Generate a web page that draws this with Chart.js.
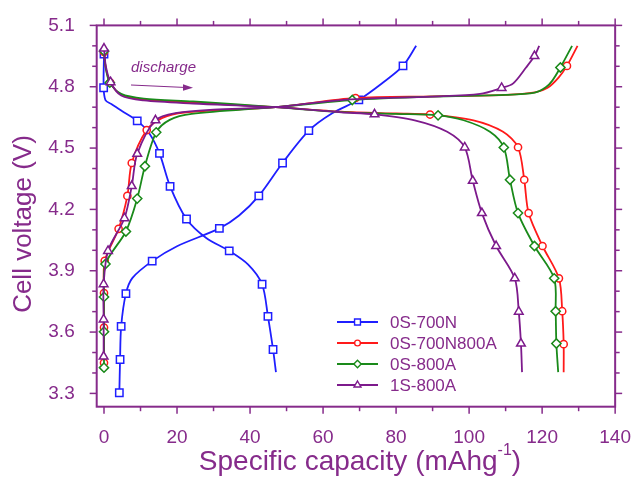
<!DOCTYPE html>
<html>
<head>
<meta charset="utf-8">
<script src="https://cdn.jsdelivr.net/npm/chart.js@4.4.0/dist/chart.umd.min.js"></script>
<style>html,body{margin:0;padding:0;background:#fff;}canvas{display:block;}</style>
</head>
<body>
<canvas id="c" width="643" height="479" style="width:643px;height:479px"></canvas>
<script>
// ---- tick labels ----
const xTicks = [0, 20, 40, 60, 80, 100, 120, 140];
const yTicks = [3.3, 3.6, 3.9, 4.2, 4.5, 4.8, 5.1];
const xMinorStep = 10;
const yMinorStep = 0.1;

// ---- series names ----
const seriesNames = ['0S-700N', '0S-700N800A', '0S-800A', '1S-800A'];

// ---- 0S-700N (blue) ----
const blueDisLine = [[0,4.96],[-0.1,4.795],[0.4,4.735],[2,4.715],[5,4.68],[9.1,4.633],[12.3,4.575],[15.2,4.474],[18.1,4.313],[22.6,4.153],[28,4.06],[34.3,3.997],[39.5,3.93],[43.3,3.834],[44.9,3.677],[46.3,3.515],[47.1,3.404]];
const blueDisMarks = [[0,4.96],[-0.1,4.795],[9.1,4.633],[15.2,4.474],[18.1,4.313],[22.6,4.153],[34.3,3.997],[43.3,3.834],[44.9,3.677],[46.3,3.515]];
const blueChgLine = [[4.2,3.303],[4.4,3.466],[4.7,3.628],[6.0,3.788],[7.8,3.865],[13.2,3.947],[20,4.02],[31.6,4.107],[37,4.17],[42.4,4.266],[48.9,4.427],[56.1,4.585],[62.5,4.67],[69.8,4.736],[76,4.815],[81.9,4.902],[85.5,5.0]];
const blueChgMarks = [[4.2,3.303],[4.4,3.466],[4.7,3.628],[6.0,3.788],[13.2,3.947],[31.6,4.107],[42.4,4.266],[48.9,4.427],[56.1,4.585],[69.8,4.736],[81.9,4.902]];

// ---- 0S-700N800A (red) ----
const redDisLine = [[0,4.97],[0.5,4.89],[1.7,4.82],[4.7,4.762],[10.9,4.737],[24.4,4.723],[47,4.70],[65,4.678],[80,4.669],[89.3,4.664],[101.2,4.636],[109.3,4.58],[113.4,4.504],[115.1,4.345],[116.3,4.182],[120.1,4.021],[124.6,3.863],[125.5,3.702],[125.9,3.541],[125.9,3.404]];
const redDisMarks = [[0,4.97],[1.7,4.82],[89.3,4.664],[113.4,4.504],[115.1,4.345],[116.3,4.182],[120.1,4.021],[124.6,3.863],[125.5,3.702],[125.9,3.541]];
const redChgLine = [[0,3.45],[0,3.622],[0,3.791],[0.2,3.948],[4.0,4.105],[6.4,4.266],[7.6,4.427],[11.7,4.588],[16,4.648],[22,4.674],[47,4.70],[68.9,4.745],[90,4.753],[110,4.76],[118,4.772],[121.5,4.795],[124.5,4.845],[126.8,4.902],[129.7,5.0]];
const redChgMarks = [[0,3.45],[0,3.622],[0,3.791],[0.2,3.948],[4.0,4.105],[6.4,4.266],[7.6,4.427],[11.7,4.588],[68.9,4.745],[126.8,4.902]];

// ---- 0S-800A (green) ----
const greenDisLine = [[0,4.975],[0.5,4.89],[1.6,4.82],[4.7,4.765],[10.9,4.742],[24.4,4.728],[47,4.70],[65,4.676],[80,4.667],[91.5,4.66],[98.5,4.636],[105.7,4.58],[109.5,4.503],[111.2,4.345],[113.4,4.182],[117.9,4.021],[123.3,3.863],[123.7,3.702],[123.9,3.544],[124.4,3.404]];
const greenDisMarks = [[0,4.975],[1.6,4.82],[91.5,4.66],[109.5,4.503],[111.2,4.345],[113.4,4.182],[117.9,4.021],[123.3,3.863],[123.7,3.702],[123.9,3.544]];
const greenChgLine = [[0,3.426],[0,3.602],[0,3.772],[0.4,3.933],[6.0,4.092],[9.1,4.253],[11.2,4.411],[14.3,4.577],[18,4.638],[24,4.667],[47,4.70],[68,4.735],[90,4.752],[110,4.76],[118,4.771],[121,4.797],[122.8,4.83],[125.0,4.894],[128.2,5.0]];
const greenChgMarks = [[0,3.426],[0,3.602],[0,3.772],[0.4,3.933],[6.0,4.092],[9.1,4.253],[11.2,4.411],[14.3,4.577],[68,4.735],[125.0,4.894]];

// ---- 1S-800A (purple) ----
const purpleDisLine = [[0,4.987],[0.5,4.9],[1.8,4.822],[4.7,4.757],[10.9,4.733],[24.4,4.718],[47,4.70],[65,4.675],[74.1,4.665],[85.1,4.636],[94,4.58],[98.8,4.503],[101.0,4.34],[103.5,4.182],[107.4,4.021],[112.5,3.863],[113.6,3.70],[114.2,3.544],[114.5,3.404]];
const purpleDisMarks = [[0,4.987],[1.8,4.822],[74.1,4.665],[98.8,4.503],[101.0,4.34],[103.5,4.182],[107.4,4.021],[112.5,3.863],[113.6,3.70],[114.2,3.544]];
const purpleChgLine = [[-0.1,3.48],[-0.1,3.662],[-0.1,3.834],[1.1,3.997],[5.6,4.157],[7.6,4.314],[9.1,4.472],[14.1,4.636],[20,4.672],[30,4.688],[47,4.70],[65,4.735],[90,4.752],[103,4.765],[108.9,4.794],[112,4.815],[115.6,4.894],[117.9,4.95],[119.2,5.0]];
const purpleChgMarks = [[-0.1,3.48],[-0.1,3.662],[-0.1,3.834],[1.1,3.997],[5.6,4.157],[7.6,4.314],[9.1,4.472],[14.1,4.636],[108.9,4.794],[117.9,4.95]];

// ---- styles ----
const AXIS = '#862b8b';
const FONT = "'Liberation Sans', Arial, sans-serif";
const styles = [
  {color:'#1f1fff', style:'rect', r:5.2, order:6},
  {color:'#ff1a1a', style:'circle', r:3.6, order:4},
  {color:'#1a8a1a', style:'rectRot', r:4.6, order:2},
  {color:'#7d1a8c', style:'triangle', r:5.0, order:0}
];
const groups = [
  [blueDisLine, blueDisMarks, blueChgLine, blueChgMarks],
  [redDisLine, redDisMarks, redChgLine, redChgMarks],
  [greenDisLine, greenDisMarks, greenChgLine, greenChgMarks],
  [purpleDisLine, purpleDisMarks, purpleChgLine, purpleChgMarks]
];
const toXY = arr => arr.map(p => ({x:p[0], y:p[1]}));

const datasets = [];
groups.forEach((g, i) => {
  const s = styles[i];
  [[g[0], g[1]], [g[2], g[3]]].forEach(([line, marks]) => {
    datasets.push({
      label: seriesNames[i], data: toXY(line), showLine: true,
      borderColor: s.color, borderWidth: 1.8, pointRadius: 0,
      tension: 0.3, fill: false, order: s.order + 1
    });
    datasets.push({
      label: seriesNames[i] + ' marks', data: toXY(marks), showLine: false,
      borderColor: s.color, backgroundColor: '#ffffff', borderWidth: 1.5,
      pointStyle: s.style, pointRadius: s.r, order: s.order
    });
  });
});

function marker(ctx, style, x, y, r, color) {
  ctx.save();
  ctx.strokeStyle = color; ctx.fillStyle = '#fff'; ctx.lineWidth = 1.4;
  ctx.beginPath();
  if (style === 'rect') { const h = r * Math.SQRT1_2; ctx.rect(x - h, y - h, 2*h, 2*h); }
  else if (style === 'circle') { ctx.arc(x, y, r, 0, Math.PI*2); }
  else if (style === 'rectRot') { ctx.moveTo(x, y - r); ctx.lineTo(x + r, y); ctx.lineTo(x, y + r); ctx.lineTo(x - r, y); ctx.closePath(); }
  else if (style === 'triangle') {
    const a = -Math.PI/2;
    for (let k = 0; k < 3; k++) { const t = a + k*2*Math.PI/3; const px = x + Math.cos(t)*r, py = y + Math.sin(t)*r; k ? ctx.lineTo(px, py) : ctx.moveTo(px, py); }
    ctx.closePath();
  }
  ctx.fill(); ctx.stroke(); ctx.restore();
}

const decor = {
  id: 'decor',
  afterDraw(chart) {
    const {ctx, chartArea: a, scales: {x, y}} = chart;
    ctx.save();
    ctx.strokeStyle = AXIS; ctx.lineWidth = 2;
    ctx.strokeRect(a.left, a.top, a.right - a.left, a.bottom - a.top);
    ctx.lineWidth = 1.5;
    const seg = (x1, y1, x2, y2) => { ctx.beginPath(); ctx.moveTo(x1, y1); ctx.lineTo(x2, y2); ctx.stroke(); };
    // x ticks (major + minor), bottom and top, outward
    for (let v = xTicks[0]; v <= xTicks[xTicks.length-1] + 1e-9; v += xMinorStep) {
      const px = x.getPixelForValue(v);
      const major = xTicks.some(t => Math.abs(t - v) < 1e-6);
      const L = major ? 7 : 4.5;
      seg(px, a.bottom, px, a.bottom + L);
      seg(px, a.top, px, a.top - L);
    }
    for (let k = 0; ; k++) {
      const v = yTicks[0] + k * yMinorStep;
      if (v > yTicks[yTicks.length-1] + 1e-6) break;
      const py = y.getPixelForValue(v);
      const major = yTicks.some(t => Math.abs(t - v) < 1e-6);
      const L = major ? 7 : 4.5;
      seg(a.left, py, a.left - L, py);
      seg(a.right, py, a.right + L, py);
    }
    // axis titles
    ctx.fillStyle = AXIS;
    ctx.textBaseline = 'alphabetic';
    ctx.font = '28px ' + FONT;
    const main = 'Specific capacity (mAhg', sup = '-1', close = ')';
    const supFont = '16px ' + FONT;
    const w1 = ctx.measureText(main).width, w3 = ctx.measureText(close).width;
    ctx.font = supFont; const w2 = ctx.measureText(sup).width;
    let sx = 360 - (w1 + w2 + w3) / 2;
    ctx.font = '28px ' + FONT; ctx.textAlign = 'left';
    ctx.fillText(main, sx, 470);
    ctx.font = supFont; ctx.fillText(sup, sx + w1, 455);
    ctx.font = '28px ' + FONT; ctx.fillText(close, sx + w1 + w2, 470);
    ctx.save();
    ctx.translate(24, 224); ctx.rotate(-Math.PI/2);
    ctx.font = '26px ' + FONT; ctx.textAlign = 'center'; ctx.textBaseline = 'middle';
    ctx.fillText('Cell voltage (V)', 0, 0);
    ctx.restore();
    // annotation
    ctx.font = 'italic 15px ' + FONT; ctx.textAlign = 'left'; ctx.textBaseline = 'alphabetic';
    ctx.fillText('discharge', 131, 72);
    ctx.strokeStyle = AXIS; ctx.lineWidth = 1.2;
    seg(131, 85, 186, 87.5);
    ctx.beginPath(); ctx.moveTo(193, 87.8); ctx.lineTo(183, 84.3); ctx.lineTo(183, 90.7); ctx.closePath(); ctx.fill();
    // legend
    const rows = [322, 343, 364, 385];
    ctx.font = '17px ' + FONT; ctx.textBaseline = 'middle';
    styles.forEach((s, i) => {
      const ry = rows[i];
      ctx.strokeStyle = s.color; ctx.lineWidth = 1.8;
      seg(337, ry, 378, ry);
      marker(ctx, s.style, 357.5, ry, s.r * 0.8, s.color);
      ctx.fillStyle = AXIS;
      ctx.fillText(seriesNames[i], 390, ry + 1);
    });
    ctx.restore();
  }
};

new Chart(document.getElementById('c'), {
  type: 'scatter',
  data: { datasets },
  options: {
    responsive: false, animation: false, devicePixelRatio: 1,
    layout: { padding: { top: 20.7, right: 19, bottom: 0, left: 0 } },
    plugins: { legend: { display: false }, tooltip: { enabled: false } },
    scales: {
      x: {
        type: 'linear', min: -2, max: 140,
        grid: { display: false }, border: { display: false },
        afterBuildTicks: s => { s.ticks = xTicks.map(v => ({ value: v })); },
        afterFit: s => { s.height = 72.3; },
        ticks: { color: AXIS, padding: 12, font: { family: FONT, size: 19 }, callback: v => String(v) }
      },
      y: {
        type: 'linear', min: 3.235, max: 5.1,
        grid: { display: false }, border: { display: false },
        afterBuildTicks: s => { s.ticks = yTicks.map(v => ({ value: v })); },
        afterFit: s => { s.width = 96.7; },
        ticks: { color: AXIS, padding: 14, font: { family: FONT, size: 19 }, callback: v => v.toFixed(1) }
      }
    }
  },
  plugins: [decor]
});
</script>
</body>
</html>
